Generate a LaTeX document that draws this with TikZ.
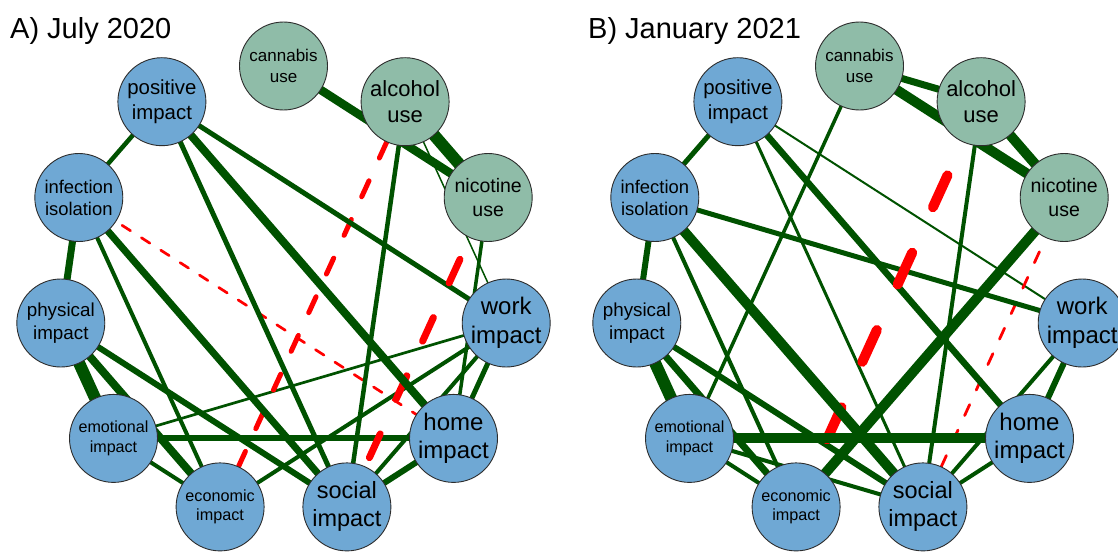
\documentclass[tikz,border=0pt]{standalone}
\usepackage{fontspec}
\setmainfont{Liberation Sans}
\pgfdeclarelayer{paper}
\pgfdeclarelayer{edges}
\pgfsetlayers{paper,edges,main}
\definecolor{nblue}{RGB}{111,168,212}
\definecolor{ngreen}{RGB}{143,188,168}
\definecolor{egreen}{RGB}{0,82,0}
\definecolor{ered}{RGB}{255,0,0}
\definecolor{nborder}{RGB}{45,45,45}
\tikzset{
  vnode/.style={circle, draw=nborder, line width=0.9pt, minimum size=88pt, inner sep=0pt, align=center, text=black},
  bv/.style={vnode, fill=nblue},
  gv/.style={vnode, fill=ngreen},
  pe/.style={draw=egreen, line width=#1pt, line cap=round},
  ne/.style={draw=ered, line width=#1pt, line cap=round},
  paneltitle/.style={anchor=base west, inner sep=0pt, font=\fontsize{29}{35}\selectfont},
}
\newcommand\panelnodes{%
  \node[gv, font=\fontsize{17}{20.5}\selectfont] (Ca) at (283.5,66) {cannabis\\use};
  \node[gv, font=\fontsize{22}{26.5}\selectfont] (Al) at (405.1,101.7) {alcohol\\use};
  \node[gv, font=\fontsize{19.5}{23.5}\selectfont] (Ni) at (488.2,197.5) {nicotine\\use};
  \node[bv, font=\fontsize{24}{28.5}\selectfont] (Wo) at (506.2,323) {work\\impact};
  \node[bv, font=\fontsize{24}{28.5}\selectfont] (Ho) at (453.5,438.4) {home\\impact};
  \node[bv, font=\fontsize{23.5}{28}\selectfont] (So) at (346.9,506.9) {social\\impact};
  \node[bv, font=\fontsize{16.2}{19.5}\selectfont] (Ec) at (220.1,506.9) {economic\\impact};
  \node[bv, font=\fontsize{16.1}{19.5}\selectfont] (Em) at (113.5,438.4) {emotional\\impact};
  \node[bv, font=\fontsize{18.8}{22.5}\selectfont] (Ph) at (60.8,323) {physical\\impact};
  \node[bv, font=\fontsize{18.4}{22}\selectfont] (In) at (78.8,197.5) {infection\\isolation};
  \node[bv, font=\fontsize{20.4}{24.5}\selectfont] (Po) at (161.9,101.7) {positive\\impact};
}
\begin{document}
\begin{tikzpicture}[x=1pt, y=-1pt]
\useasboundingbox (0,0) rectangle (1118,551);
\begin{pgfonlayer}{paper}
\fill[white] (0,0) rectangle (1118,551);
\end{pgfonlayer}

% ---------------- Panel A ----------------
\begin{scope}[name prefix=a-]
\node[paneltitle] (title) at (10,38.5) {A) July 2020};
\panelnodes
\begin{pgfonlayer}{edges}
\draw[pe=1.5] (Al) -- (Wo);
\draw[ne=2.7, dash pattern=on 10pt off 13pt, dash phase=16pt] (In) -- (Ho);
\draw[pe=2.7] (Em) -- (Wo);
\draw[pe=3.5] (Ni) -- (Ho);
\draw[pe=4] (So) -- (Wo);
\draw[pe=4.5] (Po) -- (In);
\draw[pe=4] (In) -- (Ec);
\draw[pe=4] (Em) -- (Ec);
\draw[pe=4] (Ec) -- (Wo);
\draw[pe=5] (Ho) -- (Wo);
\draw[ne=5, dash pattern=on 17.5pt off 25pt] (Al) -- (Ec);
\draw[pe=4.5] (Al) -- (So);
\draw[pe=5] (Po) -- (So);
\draw[pe=5] (Po) -- (Wo);
\draw[pe=6] (Ph) -- (So);
\draw[pe=6] (Em) -- (Ho);
\draw[pe=6] (So) -- (Ho);
\draw[pe=7] (In) -- (Ph);
\draw[pe=7] (In) -- (So);
\draw[ne=7, dash pattern=on 26pt off 38pt, dash phase=40.5pt] (Ni) -- (So);
\draw[pe=8] (Ph) -- (Ec);
\draw[pe=8] (Po) -- (Ho);
\draw[pe=8.5] (Ca) -- (Ni);
\draw[pe=12] (Al) -- (Ni);
\draw[pe=12] (Ph) -- (Em);
\end{pgfonlayer}
\end{scope}

% ---------------- Panel B ----------------
\begin{scope}[xshift=576pt, name prefix=b-]
\node[paneltitle] (title) at (12,38.5) {B) January 2021};
\panelnodes
\begin{pgfonlayer}{edges}
\draw[pe=2] (Po) -- (Wo);
\draw[ne=2.8, dash pattern=on 12pt off 16pt] (So) -- (Ni);
\draw[pe=3] (Po) -- (So);
\draw[pe=3.5] (Ca) -- (Em);
\draw[pe=4] (In) -- (Ec);
\draw[pe=4] (Em) -- (Ec);
\draw[pe=4] (Em) -- (So);
\draw[pe=4] (So) -- (Al);
\draw[pe=4] (So) -- (Ho);
\draw[pe=4] (So) -- (Wo);
\draw[pe=5] (Po) -- (In);
\draw[pe=5] (In) -- (Wo);
\draw[pe=6] (In) -- (Ph);
\draw[pe=6] (Ph) -- (So);
\draw[pe=6] (Ho) -- (Wo);
\draw[pe=6.5] (Po) -- (Ho);
\draw[pe=7] (Ca) -- (Al);
\draw[pe=7] (Ph) -- (Ec);
\draw[ne=10, dash pattern=on 35pt off 50pt, dash phase=55pt] (Ec) -- (Al);
\draw[pe=10] (Em) -- (Ho);
\draw[pe=10] (In) -- (So);
\draw[pe=10] (Ca) -- (Ni);
\draw[pe=10] (Al) -- (Ni);
\draw[pe=10] (Ec) -- (Ni);
\draw[pe=12] (Ph) -- (Em);
\end{pgfonlayer}
\end{scope}
\end{tikzpicture}
\end{document}
